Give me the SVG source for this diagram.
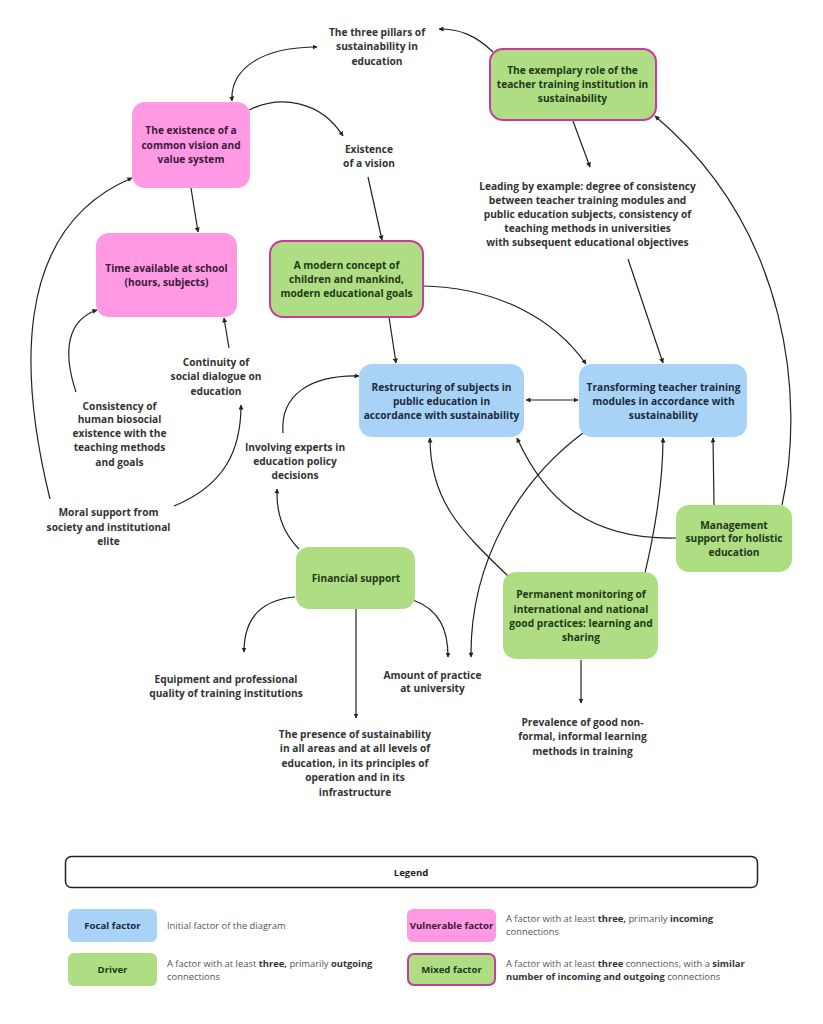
<svg xmlns="http://www.w3.org/2000/svg" width="823" height="1024" viewBox="0 0 823 1024">
<defs>
<marker id="ah" viewBox="0 0 10 10" refX="9" refY="5" markerWidth="5" markerHeight="5" orient="auto-start-reverse" markerUnits="userSpaceOnUse">
<path d="M0,0 L10,5 L0,10 z" fill="#222"/>
</marker>
<style>
text{font-family:"Open Sans","Noto Sans","Liberation Sans",sans-serif;font-weight:700;font-size:10.2px;text-anchor:middle;fill:#333}
.pk{fill:#ff99e4}
.gr{fill:#aedd84}
.bl{fill:#a9d3f6}
.mx{fill:#aedd84;stroke:#c93a9c;stroke-width:2}
.tp{fill:#3a1a36}
.tg{fill:#1f3816}
.tb{fill:#1c2a40}
.c path{fill:none;stroke:#222;stroke-width:1.2;marker-end:url(#ah)}
.ln{font-size:9.6px}
.lg{font-weight:400;text-anchor:start;fill:#555;font-size:9.4px}
.lg tspan.b{font-weight:700;fill:#333}
</style>
</defs>
<rect width="823" height="1024" fill="#fff"/>

<g class="c" id="connectors">
<path d="M493,52 C475,35 460,29 439,29"/>
<path d="M232,101 C230,70 260,47 317,47" style="marker-start:url(#ah)"/>
<path d="M249,110 C280,95 320,100 343,136"/>
<path d="M368,177 L382,240"/>
<path d="M191,188 L198,232"/>
<path d="M50,499 C22,385 8,230 132,178"/>
<path d="M76,392 C62,350 68,320 97,310"/>
<path d="M229,348 L224,318"/>
<path d="M174,506 C225,485 241,450 241,405"/>
<path d="M283,433 C280,395 310,375 359,376"/>
<path d="M299,549 C285,535 276,515 277,489"/>
<path d="M389,317 L396,363"/>
<path d="M423,286 C500,288 555,320 586,364"/>
<path d="M573,121 L590,167"/>
<path d="M628,259 L663,363"/>
<path d="M526,400 L578,400" style="marker-start:url(#ah)"/>
<path d="M782,505 C805,400 790,230 655,116"/>
<path d="M714,505 L713,438"/>
<path d="M676,538 C590,540 545,500 517,438"/>
<path d="M508,576 C460,530 430,500 430,438"/>
<path d="M583,433 C520,480 470,560 471,657"/>
<path d="M645,573 C655,530 663,480 663,438"/>
<path d="M413,600 C440,610 448,630 448,657"/>
<path d="M295,597 C260,600 244,620 244,652"/>
<path d="M356,609 L356,718"/>
<path d="M581,660 L581,703"/>
</g>

<g id="n-vision"><rect class="pk" x="132" y="102" width="118" height="86" rx="13"/>
<text class="tp"><tspan x="191" y="134">The existence of a</tspan><tspan x="191" y="148.5">common vision and</tspan><tspan x="191" y="163">value system</tspan></text></g>

<g id="n-time"><rect class="pk" x="96" y="233" width="141" height="84" rx="13"/>
<text class="tp"><tspan x="166.5" y="272">Time available at school</tspan><tspan x="166.5" y="286">(hours, subjects)</tspan></text></g>

<g id="n-modern"><rect class="mx" x="270" y="241" width="153" height="76" rx="13"/>
<text class="tg"><tspan x="346.5" y="269">A modern concept of</tspan><tspan x="346.5" y="283">children and mankind,</tspan><tspan x="346.5" y="297">modern educational goals</tspan></text></g>

<g id="n-exemplary"><rect class="mx" x="490" y="49" width="166" height="71" rx="13"/>
<text class="tg"><tspan x="572.5" y="74">The exemplary role of the</tspan><tspan x="572.5" y="88">teacher training institution in</tspan><tspan x="572.5" y="102">sustainability</tspan></text></g>

<g id="n-restructuring"><rect class="bl" x="359" y="364" width="165" height="73" rx="13"/>
<text class="tb"><tspan x="441.5" y="390.5">Restructuring of subjects in</tspan><tspan x="441.5" y="404.5">public education in</tspan><tspan x="441.5" y="418.5">accordance with sustainability</tspan></text></g>

<g id="n-transforming"><rect class="bl" x="579" y="364" width="168" height="73" rx="13"/>
<text class="tb"><tspan x="663.5" y="390.5">Transforming teacher training</tspan><tspan x="663.5" y="404.5">modules in accordance with</tspan><tspan x="663.5" y="418.5">sustainability</tspan></text></g>

<g id="n-management"><rect class="gr" x="676" y="505" width="116" height="67" rx="13"/>
<text class="tg"><tspan x="734" y="528.5">Management</tspan><tspan x="734" y="542">support for holistic</tspan><tspan x="734" y="556">education</tspan></text></g>

<g id="n-financial"><rect class="gr" x="296" y="547" width="119" height="62" rx="13"/>
<text class="tg"><tspan x="356" y="581.5">Financial support</tspan></text></g>

<g id="n-monitoring"><rect class="gr" x="503" y="572" width="155" height="87" rx="13"/>
<text class="tg"><tspan x="581" y="598">Permanent monitoring of</tspan><tspan x="581" y="612.5">international and national</tspan><tspan x="581" y="626.5">good practices: learning and</tspan><tspan x="581" y="640.5">sharing</tspan></text></g>

<g id="t-pillars"><text><tspan x="377" y="35.5">The three pillars of</tspan><tspan x="377" y="50">sustainability in</tspan><tspan x="377" y="64.5">education</tspan></text></g>
<g id="t-existence"><text><tspan x="369" y="152.5">Existence</tspan><tspan x="369" y="167">of a vision</tspan></text></g>
<g id="t-leading"><text><tspan x="587.5" y="189.5">Leading by example: degree of consistency</tspan><tspan x="587.5" y="203.5">between teacher training modules and</tspan><tspan x="587.5" y="217.5">public education subjects, consistency of</tspan><tspan x="587.5" y="231.5">teaching methods in universities</tspan><tspan x="587.5" y="245.5">with subsequent educational objectives</tspan></text></g>
<g id="t-continuity"><text><tspan x="216" y="365.5">Continuity of</tspan><tspan x="216" y="380">social dialogue on</tspan><tspan x="216" y="394.5">education</tspan></text></g>
<g id="t-consistency"><text><tspan x="119.5" y="409.5">Consistency of</tspan><tspan x="119.5" y="423">human biosocial</tspan><tspan x="119.5" y="437">existence with the</tspan><tspan x="119.5" y="451">teaching methods</tspan><tspan x="119.5" y="465.5">and goals</tspan></text></g>
<g id="t-involving"><text><tspan x="295" y="450.5">Involving experts in</tspan><tspan x="295" y="464.5">education policy</tspan><tspan x="295" y="478.5">decisions</tspan></text></g>
<g id="t-moral"><text><tspan x="108.5" y="515.5">Moral support from</tspan><tspan x="108.5" y="530.5">society and institutional</tspan><tspan x="108.5" y="544.5">elite</tspan></text></g>
<g id="t-equipment"><text><tspan x="226" y="682.5">Equipment and professional</tspan><tspan x="226" y="696.5">quality of training institutions</tspan></text></g>
<g id="t-amount"><text><tspan x="432.5" y="678.5">Amount of practice</tspan><tspan x="432.5" y="692">at university</tspan></text></g>
<g id="t-presence"><text><tspan x="355" y="737.5">The presence of sustainability</tspan><tspan x="355" y="752">in all areas and at all levels of</tspan><tspan x="355" y="766.5">education, in its principles of</tspan><tspan x="355" y="781">operation and in its</tspan><tspan x="355" y="795.5">infrastructure</tspan></text></g>
<g id="t-prevalence"><text><tspan x="582.5" y="725.5">Prevalence of good non-</tspan><tspan x="582.5" y="740">formal, informal learning</tspan><tspan x="582.5" y="754.5">methods in training</tspan></text></g>

<g id="legend">
<rect x="65.5" y="856.5" width="692" height="31" rx="6" fill="#fff" stroke="#222" stroke-width="1.5"/>
<text class="ln" x="411" y="875.5" style="fill:#222">Legend</text>
<rect class="bl" x="68" y="909" width="89" height="33" rx="6"/>
<text class="tb ln" x="112.5" y="929">Focal factor</text>
<text class="lg" x="167" y="929">Initial factor of the diagram</text>
<rect class="gr" x="68" y="953" width="89" height="33" rx="6"/>
<text class="tg ln" x="112.5" y="973">Driver</text>
<text class="lg"><tspan x="167" y="966.5">A factor with at least <tspan class="b">three,</tspan> primarily <tspan class="b">outgoing</tspan></tspan><tspan x="167" y="979.5">connections</tspan></text>
<rect class="pk" x="407" y="909" width="89" height="33" rx="6"/>
<text class="tp ln" x="451.5" y="929">Vulnerable factor</text>
<text class="lg"><tspan x="506" y="921.5">A factor with at least <tspan class="b">three,</tspan> primarily <tspan class="b">incoming</tspan></tspan><tspan x="506" y="935">connections</tspan></text>
<rect class="mx" x="408" y="954" width="87" height="31" rx="6"/>
<text class="tg ln" x="451.5" y="973">Mixed factor</text>
<text class="lg"><tspan x="506" y="966.5">A factor with at least <tspan class="b">three</tspan> connections, with a <tspan class="b">similar</tspan></tspan><tspan x="506" y="979.5"><tspan class="b">number of incoming and outgoing</tspan> connections</tspan></text>
</g>
</svg>
